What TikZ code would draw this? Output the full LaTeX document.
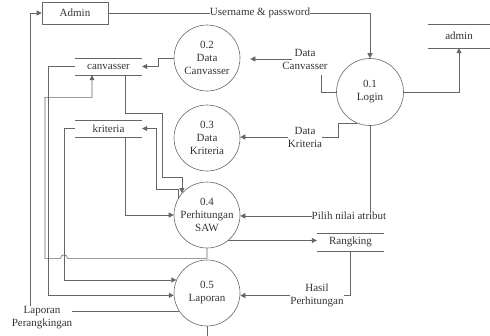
\documentclass[tikz,border=0pt]{standalone}
\usepackage{fontspec}
\setmainfont{Liberation Serif}
\usetikzlibrary{arrows.meta}
\begin{document}
\begin{tikzpicture}[x=1pt,y=-1pt,
  every node/.style={font=\fontsize{11}{13}\selectfont, text=black!80},
  ln/.style={draw=black!60, line width=0.6pt},
  arr/.style={ln, -{Triangle[length=5pt,width=5pt]}},
  proc/.style={circle, draw=black!60, line width=0.6pt, minimum size=66pt, inner sep=0pt, align=center},
  store/.style={minimum height=17pt, inner sep=0pt},
  lbl/.style={align=center, inner sep=0pt}]
\useasboundingbox (0,0) rectangle (490,335);

% entity
\node[draw=black!60, line width=0.6pt, minimum width=66pt, minimum height=22pt, inner sep=0pt] (adm) at (75,13) {Admin};

% processes
\node[proc, minimum size=67pt] (login) at (370,92) {0.1\\Login};
\node[proc] (dcp) at (207,58) {0.2\\Data\\Canvasser};
\node[proc] (dkp) at (207,138) {0.3\\Data\\Kriteria};
\node[proc] (saw) at (207,215) {0.4\\Perhitungan\\SAW};
\node[proc] (lap) at (207,293) {0.5\\Laporan};

% data stores
\node[store, minimum width=62pt, minimum height=24pt] (ad) at (459,36) {admin};
\node[store, minimum width=67pt] (cv) at (108.5,66.5) {canvasser};
\node[store, minimum width=67pt] (kr) at (108.5,128.5) {kriteria};
\node[store, minimum width=67pt, minimum height=18pt] (rk) at (350.5,242) {Rangking};
\foreach \n in {ad,cv,kr,rk}
  \draw[ln] (\n.north west) -- (\n.north east) (\n.south west) -- (\n.south east);

% labels
\node[lbl] (user) at (260,13) {Username \& password};
\node[lbl] (dc) at (305,59) {Data\\Canvasser};
\node[lbl] (dk) at (305,137) {Data\\Kriteria};
\node[lbl] (pn) at (349,216) {Pilih nilai atribut};
\node[lbl] (hp) at (317,295.5) {Hasil\\Perhitungan};
\node[lbl] (lp) at (42,317.5) {Laporan\\Perangkingan};

% Admin -> Login
\draw[ln] (adm.east) -- (user.west);
\draw[arr] (user.east) -| (login.north);
% Login -> admin store
\draw[arr] (login.east) -| (ad.south);
% Login -> 0.2
\draw[ln] (login.west) -- ++(-15,0) -- ++(0,-17);
\draw[arr] ([xshift=10pt]dc.west) -- ([xshift=10pt]dc.west -| dcp.east);
% Login -> 0.3
\draw[ln] (login.247) -- ++(-18,0) |- (dk.east);
\draw[arr] (dk.west) -- (dk.west -| dkp.east);
% Login -> 0.4
\draw[ln] (login.south) -- (login.south |- pn.north);
\draw[arr] (pn.west) -- (pn.west -| saw.east);
% 0.4 -> Rangking
\draw[arr] (saw.-50) -- (saw.-50 -| rk.west);
% Rangking -> 0.5
\draw[ln] (rk.south) |- (hp.east);
\draw[arr] (hp.west) -- (hp.west -| lap.east);
% 0.2 -> canvasser
\draw[arr] (dcp.west) -- ++(-15,0) |- (cv.east);
% canvasser -> 0.4
\draw[arr] ([xshift=17pt]cv.south) -- ++(0,38) -- ++(36.5,0) -- ++(0,64) -| (saw.139);
% 0.4 -> kriteria
\draw[arr] (saw.151.5) -- ++(0,-9.3) -- ++(-22,0) |- (kr.east);
% kriteria -> 0.4
\draw[arr] ([xshift=17pt]kr.south) |- (saw.west);
% canvasser -> 0.5
\draw[arr] (cv.west) -- ++(-27,0) |- (lap.184);
% kriteria -> 0.5
\draw[arr] (kr.west) -- ++(-11,0) |- (lap.157);
% 0.4 -> canvasser (with jump)
\draw[arr] (saw.south) -- ++(0,10) -- ++(-139.5,0)
   arc[start angle=0, end angle=180, radius=3.5pt]
   -- ++(-15.5,0) -- ++(0,-161) -| ([xshift=-16.5pt]cv.south);
% 0.5 -> Admin
\draw[ln] (lap.213) -- (lap.213 -| lp.east);
\draw[arr] ([xshift=-12pt]lp.north) |- (adm.west);
% 0.5 outgoing
\draw[ln] (lap.south) -- ++(0,12);
\end{tikzpicture}
\end{document}
